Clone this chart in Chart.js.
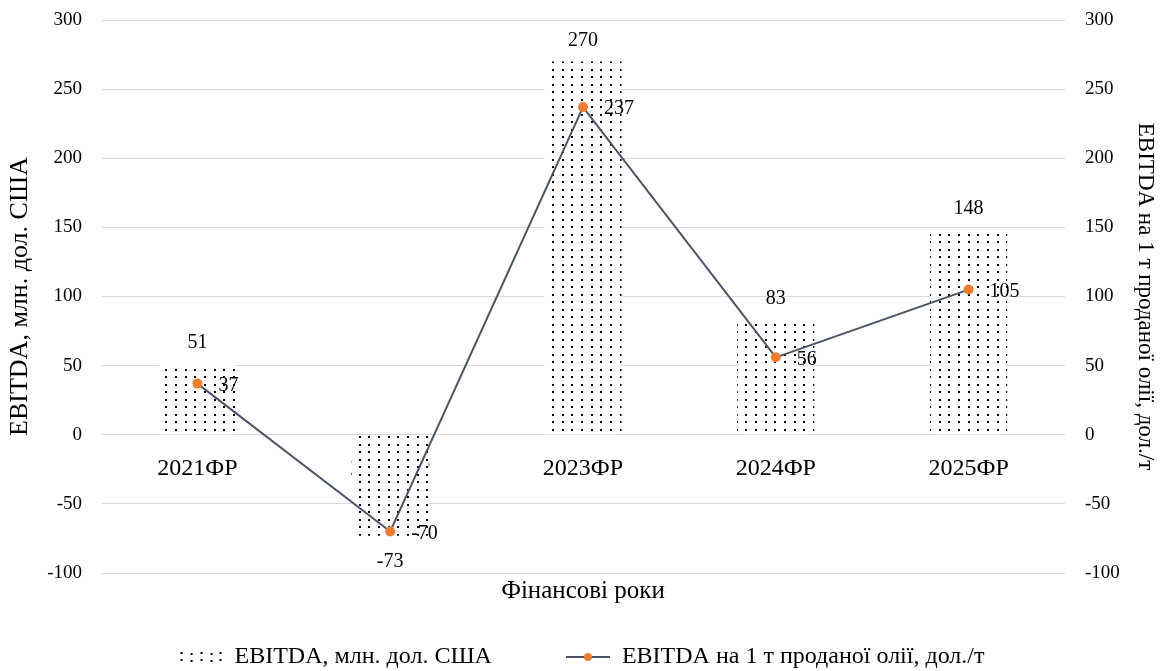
<!DOCTYPE html>
<html>
<head>
<meta charset="utf-8">
<script src="https://cdn.jsdelivr.net/npm/chart.js@4.4.1/dist/chart.umd.min.js"></script>
<style>
  html, body { margin: 0; padding: 0; background: #ffffff; }
  #wrap { width: 1163px; height: 671px; }
</style>
</head>
<body>
<div id="wrap"><canvas id="c" width="1163" height="671"></canvas></div>
<script>
const categories = ['2021ФР', '2022ФР', '2023ФР', '2024ФР', '2025ФР'];
const ebitdaMln = [51, -73, 270, 83, 148];
const ebitdaPerTon = [37, -70, 237, 56, 105];
const barLabel = 'EBITDA, млн. дол. США';
const lineLabel = 'EBITDA на 1 т проданої олії, дол./т';
const leftTitle = 'EBITDA, млн. дол. США';
const rightTitle = 'EBITDA на 1 т проданої олії, дол./т';
const xTitle = 'Фінансові роки';
const yMin = -100, yMax = 300, yStep = 50;

const FONT = '"Liberation Serif", "Times New Roman", serif';
const LINE_COLOR = '#4B5366';
const POINT_COLOR = '#ED7D31';
const GRID_COLOR = '#D9D9D9';
const GAP = '\u00A0'.repeat(12);

function makeDotPattern() {
  const p = document.createElement('canvas');
  p.width = 29; p.height = 15;
  const g = p.getContext('2d');
  g.fillStyle = '#ffffff';
  g.fillRect(0, 0, 29, 15);
  g.fillStyle = '#000000';
  [1, 11, 20].forEach(x => [1, 9].forEach(y => g.fillRect(x, y, 2, 2)));
  return g.createPattern(p, 'repeat');
}
const dotPattern = makeDotPattern();

function legendBarImg() {
  const c = document.createElement('canvas');
  c.width = 44; c.height = 16;
  const g = c.getContext('2d');
  g.fillStyle = '#000';
  [2, 12, 22, 32, 41].forEach((x, i) => {
    [3, 10].forEach(y => g.fillRect(x, y + (i % 2 ? 1 : 0), 2, 2));
  });
  return c;
}
function legendLineImg() {
  const c = document.createElement('canvas');
  c.width = 44; c.height = 12;
  const g = c.getContext('2d');
  g.strokeStyle = LINE_COLOR; g.lineWidth = 2;
  g.beginPath(); g.moveTo(0, 6); g.lineTo(44, 6); g.stroke();
  g.fillStyle = POINT_COLOR;
  g.beginPath(); g.arc(22, 6, 4, 0, Math.PI * 2); g.fill();
  return c;
}
const imgBar = legendBarImg();
const imgLine = legendLineImg();

const labelPlugin = {
  id: 'valueLabels',
  afterDatasetsDraw(chart) {
    const ctx = chart.ctx;
    ctx.save();
    ctx.font = '20px ' + FONT;
    ctx.fillStyle = '#000';
    const barMeta = chart.getDatasetMeta(0);
    barMeta.data.forEach((el, i) => {
      const v = ebitdaMln[i];
      ctx.textAlign = 'center';
      ctx.textBaseline = 'middle';
      const y = v >= 0 ? el.y - 21 : el.y + 26;
      ctx.fillText(String(v), el.x, y);
    });
    const lineMeta = chart.getDatasetMeta(1);
    lineMeta.data.forEach((el, i) => {
      const v = ebitdaPerTon[i];
      ctx.textAlign = 'left';
      ctx.textBaseline = 'middle';
      ctx.fillText(String(v), el.x + 21, el.y + 2);
    });
    ctx.restore();
  }
};

function fixVertical(width) {
  return function (s) {
    s.width = width;
    s.paddingTop = 0;
    s.paddingBottom = 0;
  };
}

new Chart(document.getElementById('c'), {
  data: {
    labels: categories,
    datasets: [
      {
        type: 'bar',
        label: barLabel,
        data: ebitdaMln,
        backgroundColor: dotPattern,
        borderWidth: 0,
        barPercentage: 0.4,
        categoryPercentage: 1,
        yAxisID: 'y',
        order: 2
      },
      {
        type: 'line',
        label: lineLabel,
        data: ebitdaPerTon,
        borderColor: LINE_COLOR,
        borderWidth: 2,
        pointBackgroundColor: POINT_COLOR,
        pointBorderColor: POINT_COLOR,
        pointRadius: 5,
        pointBorderWidth: 0,
        tension: 0,
        yAxisID: 'y',
        order: 1
      }
    ]
  },
  options: {
    responsive: false,
    animation: false,
    devicePixelRatio: 1,
    layout: { padding: { top: 20, bottom: -8, left: 0, right: 0 } },
    plugins: {
      tooltip: { enabled: false },
      legend: {
        position: 'bottom',
        labels: {
          usePointStyle: true,
          pointStyleWidth: 44,
          padding: 2,
          color: '#000',
          font: { family: FONT, size: 24 },
          generateLabels(chart) {
            return [
              { text: barLabel + GAP, pointStyle: imgBar, fillStyle: '#fff', strokeStyle: '#fff', lineWidth: 0, datasetIndex: 0, fontColor: '#000' },
              { text: lineLabel, pointStyle: imgLine, fillStyle: '#fff', strokeStyle: '#fff', lineWidth: 0, datasetIndex: 1, fontColor: '#000' }
            ];
          }
        }
      }
    },
    scales: {
      x: {
        type: 'category',
        position: { y: 0 },
        grid: { display: false, drawTicks: false },
        border: { display: false },
        ticks: { color: '#000', font: { family: FONT, size: 24 }, padding: 20 },
        afterFit(s) { s.height = 0; }
      },
      x2: {
        type: 'category',
        labels: categories,
        position: 'bottom',
        grid: { display: false, drawTicks: false },
        border: { display: false },
        ticks: { display: false },
        title: { display: true, text: xTitle, color: '#000', font: { family: FONT, size: 25 }, padding: { top: 0, bottom: 37 } },
        afterFit(s) { s.height = 70; }
      },
      y: {
        type: 'linear',
        position: 'left',
        min: yMin, max: yMax,
        ticks: { stepSize: yStep, color: '#000', font: { family: FONT, size: 19 }, padding: 19 },
        grid: { color: GRID_COLOR, lineWidth: 1, drawTicks: false },
        border: { display: false },
        title: { display: true, text: leftTitle, color: '#000', font: { family: FONT, size: 26 }, padding: { top: 5, bottom: 0 } },
        afterFit: fixVertical(101)
      },
      y2: {
        type: 'linear',
        position: 'right',
        min: yMin, max: yMax,
        ticks: { stepSize: yStep, color: '#000', font: { family: FONT, size: 19 }, padding: 20 },
        grid: { display: false, drawTicks: false },
        border: { display: false },
        title: { display: true, text: rightTitle, color: '#000', font: { family: FONT, size: 23 }, padding: { top: 4, bottom: 0 } },
        afterFit: fixVertical(98)
      }
    }
  },
  plugins: [labelPlugin]
});
</script>
</body>
</html>
